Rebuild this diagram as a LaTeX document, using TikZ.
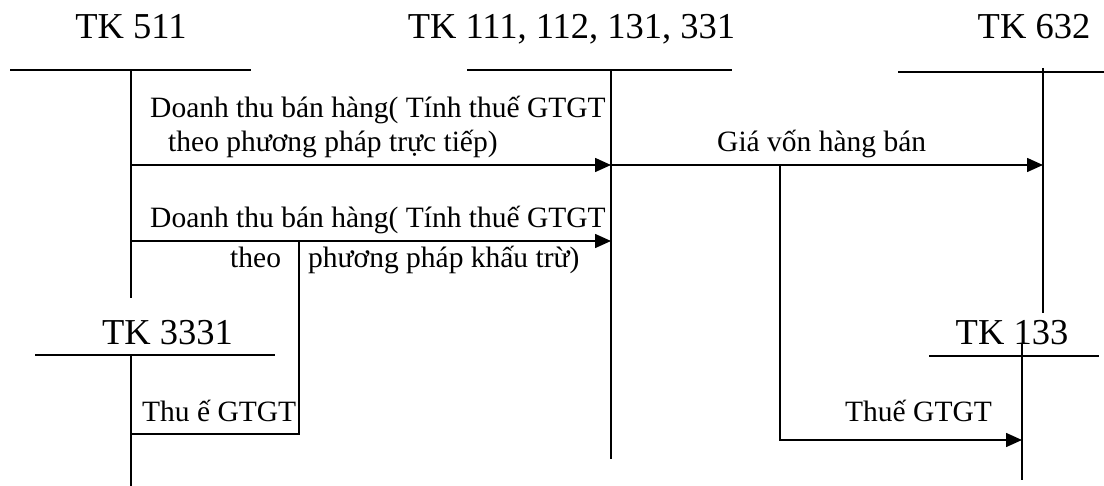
\documentclass[tikz,border=0pt]{standalone}
\usepackage{fontspec}
\setmainfont{Liberation Serif}
\usetikzlibrary{arrows.meta}
\tikzset{
  acct/.style={line width=1.6pt},
  flow/.style={line width=1.6pt, -{Triangle[length=16pt,width=14pt]}},
  link/.style={line width=1.6pt},
  head/.style={inner sep=0pt, anchor=base, font=\fontsize{36.5}{40}\selectfont},
  lbl/.style={inner sep=0pt, anchor=base west, font=\fontsize{29.5}{34}\selectfont},
}
\begin{document}
\begin{tikzpicture}[x=1pt,y=-1pt]
\useasboundingbox (0,0) rectangle (1104,486);

% account headings
\node[head] (h511) at (131,39) {TK 511};
\node[head] (h111) at (571.5,39) {TK 111, 112, 131, 331};
\node[head] (h632) at (1034,39) {TK 632};
\node[head] (h3331) at (167.5,345) {TK 3331};
\node[head] (h133) at (1012,345) {TK 133};

% T-account frames
\coordinate (t511l) at (10,70);   \coordinate (t511r) at (251,70);
\coordinate (t511t) at (131,70);  \coordinate (t511b) at (131,298);
\coordinate (t111l) at (467,70);  \coordinate (t111r) at (732,70);
\coordinate (t111t) at (611,70);  \coordinate (t111b) at (611,459);
\coordinate (t632l) at (898,72);  \coordinate (t632r) at (1104,72);
\coordinate (t632t) at (1043,68); \coordinate (t632b) at (1043,313);
\coordinate (t3331l) at (35,355); \coordinate (t3331r) at (275,355);
\coordinate (t3331t) at (131,355);\coordinate (t3331b) at (131,486);
\coordinate (t133l) at (929,356); \coordinate (t133r) at (1099,356);
\coordinate (t133t) at (1022,343);\coordinate (t133b) at (1022,480);

\draw[acct] (t511l) -- (t511r);   \draw[acct] (t511t) -- (t511b);
\draw[acct] (t111l) -- (t111r);   \draw[acct] (t111t) -- (t111b);
\draw[acct] (t632l) -- (t632r);   \draw[acct] (t632t) -- (t632b);
\draw[acct] (t3331l) -- (t3331r); \draw[acct] (t3331t) -- (t3331b);
\draw[acct] (t133l) -- (t133r);   \draw[acct] (t133t) -- (t133b);

% entry points on the accounts
\coordinate (a1s) at (131,165);  \coordinate (a1e) at (611,165);
\coordinate (a2e) at (1043,165);
\coordinate (a3s) at (131,241);  \coordinate (a3e) at (611,241);
\coordinate (v1t) at (299,241);  \coordinate (v1b) at (299,434);
\coordinate (v1e) at (131,434);
\coordinate (v2t) at (780,165);  \coordinate (v2b) at (780,440);
\coordinate (v2e) at (1022,440);

% flows
\draw[flow] (a1s) -- (a1e);
\draw[flow] (a1e) -- (a2e);
\draw[flow] (a3s) -- (a3e);
\draw[link] (v1t) -- (v1b) -- (v1e);
\draw[flow] (v2t) -- (v2b) -- (v2e);

% labels
\node[lbl] (l1a) at (150,118) {Doanh thu bán hàng( Tính thuế GTGT};
\node[lbl] (l1b) at (168,152) {theo phương pháp trực tiếp)};
\node[lbl] (l2) at (717,152) {Giá vốn hàng bán};
\node[lbl] (l3a) at (150,228) {Doanh thu bán hàng( Tính thuế GTGT};
\node[lbl] (l3b) at (230,268) {theo};
\node[lbl] (l3c) at (308,268) {phương pháp khấu trừ)};
\node[lbl] (l4) at (142,422) {Thu ế GTGT};
\node[lbl] (l5) at (845,422) {Thuế GTGT};
\end{tikzpicture}
\end{document}
